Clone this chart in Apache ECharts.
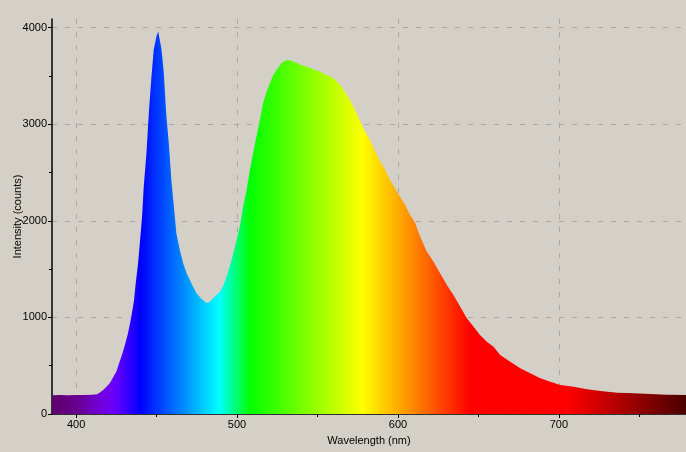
<!DOCTYPE html>
<html>
<head>
<meta charset="utf-8">
<script src="https://cdn.jsdelivr.net/npm/echarts@6/dist/echarts.min.js"></script>
<style>
html,body{margin:0;padding:0;background:#d4d0c8;}
#chart{width:686px;height:452px;}
</style>
</head>
<body>
<div id="chart"></div>
<script>
// Wavelength (nm) and intensity (counts)
const wavelengths = [385,390,395,400,405,410,413,415,417,419,421,423,425,427,429,430,432,434,436,437,438.5,440,441,442,443.7,445.3,446.8,448.2,449.9,451,452,453,454.4,456,457.6,459.2,460.7,462.3,464.4,466.5,468.6,471.7,474.8,478,481,483,485,489.3,491.5,493.5,496.6,499.7,501.7,503.8,505.9,508,510,512,514.2,516.2,518.4,520.4,522.5,524.6,527.7,530,532,535,539,543,547.4,551.5,555.7,559.8,564,567,570,573.3,576.4,579.5,582.6,585.7,589,592,595,598,601.3,604.4,607.5,610.6,613.7,617.9,622,626.2,630.4,634.5,638.6,642.8,646.9,651,655.2,659.4,663.5,669.8,676,682.2,688.5,694.7,700.9,709.2,717.5,725.8,736.2,746.5,756.9,767.3,779];
const counts = [195,196,194,197,196,200,205,225,250,285,320,380,440,540,640,697,820,980,1180,1350,1560,1850,2050,2350,2700,3150,3490,3770,3910,3960,3970,3780,3550,3100,2800,2420,2150,1870,1700,1560,1460,1350,1250,1190,1150,1160,1195,1265,1330,1420,1595,1800,1940,2150,2320,2530,2700,2870,3045,3220,3340,3425,3510,3565,3635,3660,3665,3650,3620,3598,3570,3545,3510,3478,3408,3340,3253,3150,3030,2925,2840,2720,2615,2530,2425,2340,2250,2165,2062,1980,1840,1682,1578,1458,1337,1233,1112,991,905,818,749,697,611,542,473,421,370,335,300,283,256,238,221,214,207,200,197];
const xTickLabels = [400,500,600,700];
const xMinorTicks = [450,550,650,750];
const yTickLabels = [0,1000,2000,3000,4000];
const yMinorTicks = [500,1500,2500,3500];
// spectrum colour stops (wavelength nm -> colour)
const specNm = [385,400,410,420,426,440,489,508,578,645,705,779];
const specColor = ['#5e006a','#68008e','#7000c0','#7000f0','#6000ff','#0000ff','#00ffff','#00ff00','#ffff00','#ff0000','#ff0000','#4a0000'];

const xMin = 385, xMax = 779, yMax = 4090;
const stops = specNm.map((n,i)=>({offset:(n-xMin)/(xMax-xMin), color:specColor[i]}));
const data = wavelengths.map((w,i)=>[w,counts[i]]);

const chart = echarts.init(document.getElementById('chart'), null, {renderer:'canvas'});
const font = 'Liberation Sans, Arial, sans-serif';
const grid = {color:'#a8a8a8',type:[5,8],width:1};
const fmt = v => String(v);
chart.setOption({
  backgroundColor:'#d4d0c8',
  animation:false,
  grid:{left:52,right:0,top:19,bottom:38,containLabel:false,outerBoundsMode:'none'},
  xAxis:[{
    type:'value', min:xMin, max:xMax,
    name:'Wavelength (nm)', nameLocation:'middle', nameGap:21, nameMoveOverlap:false,
    nameTextStyle:{color:'#000',fontFamily:font,fontSize:11},
    axisLine:{lineStyle:{color:'#000',width:1.5}},
    axisTick:{show:true,length:4,customValues:xTickLabels,lineStyle:{color:'#000'}},
    axisLabel:{color:'#000',fontFamily:font,fontSize:11,margin:5,customValues:xTickLabels,formatter:fmt},
    splitLine:{show:true,showMinLine:true,showMaxLine:true,lineStyle:grid}
  },{
    type:'value', min:xMin, max:xMax, position:'bottom',
    axisLine:{show:false},
    axisTick:{show:true,length:3,customValues:xMinorTicks,lineStyle:{color:'#000'}},
    axisLabel:{show:false},
    splitLine:{show:false}
  }],
  yAxis:[{
    type:'value', min:0, max:yMax, interval:1000,
    name:'Intensity (counts)', nameLocation:'middle', nameGap:29, nameRotate:90, nameMoveOverlap:false,
    nameTextStyle:{color:'#000',fontFamily:font,fontSize:11},
    axisLine:{show:true,lineStyle:{color:'#000',width:1.5}},
    axisTick:{show:true,length:4,customValues:yTickLabels,lineStyle:{color:'#000'}},
    axisLabel:{color:'#000',fontFamily:font,fontSize:11,margin:5,customValues:yTickLabels,formatter:fmt},
    splitLine:{show:true,showMinLine:true,showMaxLine:true,lineStyle:grid}
  },{
    type:'value', min:0, max:yMax, position:'left',
    axisLine:{show:false},
    axisTick:{show:true,length:3,customValues:yMinorTicks,lineStyle:{color:'#000'}},
    axisLabel:{show:false},
    splitLine:{show:false}
  }],
  series:[{
    type:'line', data:data, symbol:'none', smooth:false,
    xAxisIndex:0, yAxisIndex:0,
    lineStyle:{width:0},
    areaStyle:{opacity:1,color:new echarts.graphic.LinearGradient(0,0,1,0,stops)},
    z:1
  }]
});
</script>
</body>
</html>
